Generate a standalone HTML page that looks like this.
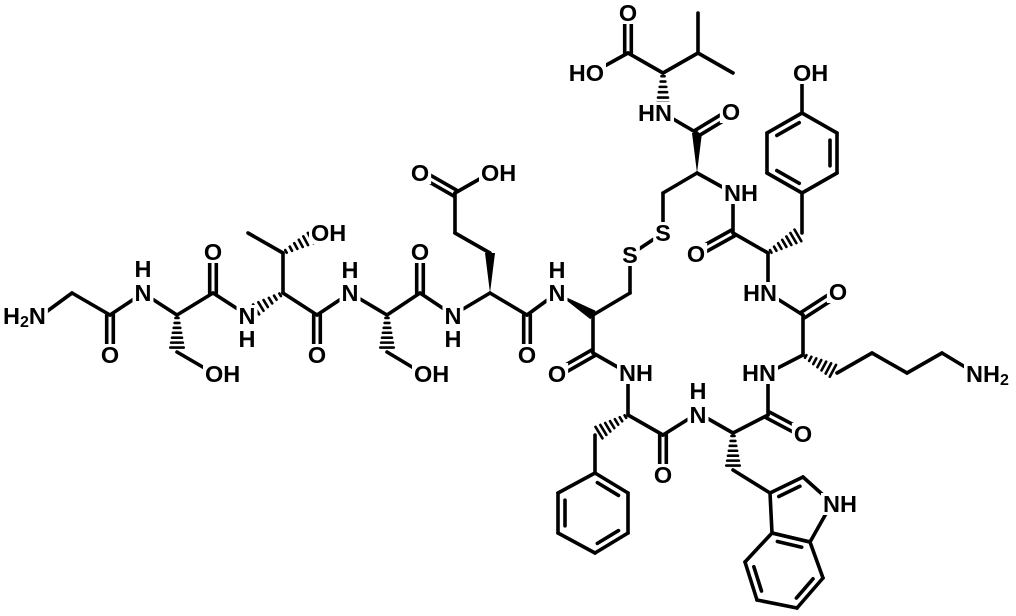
<!DOCTYPE html>
<html><head><meta charset="utf-8"><style>
html,body{margin:0;padding:0;background:#fff;}
svg{display:block}
text{font-family:"Liberation Sans",Arial,sans-serif;font-weight:bold;font-size:23.5px;fill:#000;dominant-baseline:central}
</style></head><body>
<svg id="s" width="1016" height="616" viewBox="0 0 1016 616" xmlns="http://www.w3.org/2000/svg">
<g id="b" stroke="#000" stroke-width="3.6" stroke-linecap="round" fill="none"></g>
<g id="w" fill="#000"></g>
<g id="bg" fill="#fff"></g>
<g id="t"></g>
</svg>
<script>
const B=document.getElementById('b'),W=document.getElementById('w'),T=document.getElementById('t'),BG=document.getElementById('bg');
const NS='http://www.w3.org/2000/svg';
function ln(x1,y1,x2,y2){const e=document.createElementNS(NS,'line');e.setAttribute('x1',x1);e.setAttribute('y1',y1);e.setAttribute('x2',x2);e.setAttribute('y2',y2);B.appendChild(e);}
function L(a){for(let i=0;i<a.length-1;i++)ln(a[i][0],a[i][1],a[i+1][0],a[i+1][1]);}
function D(a,b){const dx=b[0]-a[0],dy=b[1]-a[1],l=Math.hypot(dx,dy),nx=-dy/l*3.3,ny=dx/l*3.3;ln(a[0]+nx,a[1]+ny,b[0]+nx,b[1]+ny);ln(a[0]-nx,a[1]-ny,b[0]-nx,b[1]-ny);}
function IN(a,b,c){const sh=0.18;let p=[a[0]+(b[0]-a[0])*sh,a[1]+(b[1]-a[1])*sh],q=[a[0]+(b[0]-a[0])*(1-sh),a[1]+(b[1]-a[1])*(1-sh)];const mx=(a[0]+b[0])/2,my=(a[1]+b[1])/2,dx=c[0]-mx,dy=c[1]-my,l=Math.hypot(dx,dy),o=7;ln(p[0]+dx/l*o,p[1]+dy/l*o,q[0]+dx/l*o,q[1]+dy/l*o);}
function H(a,b){const dx=b[0]-a[0],dy=b[1]-a[1],l=Math.hypot(dx,dy),nx=-dy/l,ny=dx/l;const n=7;for(let i=0;i<n;i++){const t=0.08+i*0.8/(n-1),w=1+t*6.5;const x=a[0]+dx*t,y=a[1]+dy*t;const e=document.createElementNS(NS,'line');e.setAttribute('x1',x+nx*w);e.setAttribute('y1',y+ny*w);e.setAttribute('x2',x-nx*w);e.setAttribute('y2',y-ny*w);e.setAttribute('stroke-width','2.6');B.appendChild(e);}}
function Wg(a,b){const dx=b[0]-a[0],dy=b[1]-a[1],l=Math.hypot(dx,dy),nx=-dy/l*5,ny=dx/l*5;const p=document.createElementNS(NS,'polygon');p.setAttribute('points',`${a[0]},${a[1]} ${b[0]+nx},${b[1]+ny} ${b[0]-nx},${b[1]-ny}`);W.appendChild(p);}
function R(pts,dbl){const c=[pts.reduce((s,p)=>s+p[0],0)/pts.length,pts.reduce((s,p)=>s+p[1],0)/pts.length];L(pts.concat([pts[0]]));dbl.forEach(i=>IN(pts[i],pts[(i+1)%pts.length],c));}
function tx(x,y,s,anc){const e=document.createElementNS(NS,'text');e.setAttribute('x',x);e.setAttribute('y',y);if(anc)e.setAttribute('text-anchor',anc);e.innerHTML=s;T.appendChild(e);
 try{const bb=e.getBBox();const r=document.createElementNS(NS,'rect');r.setAttribute('x',bb.x-2);r.setAttribute('y',bb.y+2);r.setAttribute('width',bb.width+4);r.setAttribute('height',bb.height-4);BG.appendChild(r);}catch(err){}}
L([[42,315],[72,293],[110,315],[143,293],[177,315]]);D([110,315],[110,353]);
H([177,315],[177,352]);L([[177,352],[213,373]]);
L([[177,315],[213,293],[247,315]]);D([213,293],[213,253]);
H([283,293],[247,315]);
L([[283,293],[283,253],[248,233]]);H([283,253],[320,233]);
L([[283,293],[317,315],[350,293],[387,315]]);D([317,315],[317,353]);
H([387,315],[387,352]);L([[387,352],[422,373]]);
L([[387,315],[420,293],[453,315],[490,293]]);D([420,293],[420,253]);
Wg([490,293],[490,253]);L([[490,253],[455,233],[455,193],[490,173]]);D([455,193],[420,173]);
L([[490,293],[527,315],[557,293]]);D([527,315],[527,353]);
Wg([557,293],[593,315]);
L([[593,315],[630,293],[630,255]]);L([[630,255],[663,233],[663,193],[697,173]]);
Wg([697,173],[697,133]);D([697,133],[730,113]);L([[697,133],[663,113]]);
H([663,73],[663,113]);L([[628,53],[663,73],[698,53],[698,13]]);L([[698,53],[733,73]]);D([628,53],[628,13]);L([[628,53],[592,73]]);
L([[697,173],[733,193],[733,233],[768,253]]);D([733,233],[697,253]);
H([768,253],[802,233]);L([[802,233],[802,193]]);
R([[802,193],[767,173],[767,133],[802,113],[837,133],[837,173]],[0,2,4]);L([[802,113],[802,73]]);
L([[768,253],[768,293],[803,315],[803,355]]);D([803,315],[837,293]);
H([803,355],[837,373]);L([[837,373],[872,353],[907,373],[942,353],[975,373]]);
L([[803,355],[768,373],[768,415],[733,433]]);D([768,415],[802,433]);
L([[733,433],[698,413],[663,435],[628,415],[628,373],[593,353],[593,315]]);D([663,435],[663,473]);D([593,353],[558,373]);
H([628,415],[595,435]);L([[595,435],[595,473]]);
R([[595,473],[628,493],[628,533],[595,553],[558,533],[558,493]],[0,2,4]);
H([733,433],[733,470]);L([[733,470],[770,493]]);
R([[770,493],[803,477],[832,503],[810,542],[772,533]],[0]);
R([[772,533],[745,562],[757,600],[797,608],[823,578],[810,542]],[1,3,5]);
tx(3,316,'H<tspan font-size="16" dy="6">2</tspan><tspan dy="-6">N</tspan>','start');
tx(110,355,'O','middle');tx(143,293,'N','middle');tx(143,269,'H','middle');
tx(205,374,'OH','start');tx(213,252,'O','middle');
tx(247,316,'N','middle');tx(247,339,'H','middle');
tx(311,233,'OH','start');tx(317,355,'O','middle');
tx(350,293,'N','middle');tx(350,270,'H','middle');
tx(414,374,'OH','start');tx(420,252,'O','middle');
tx(453,316,'N','middle');tx(453,339,'H','middle');
tx(420,173,'O','middle');tx(481,173,'OH','start');
tx(527,355,'O','middle');tx(557,293,'N','middle');tx(557,270,'H','middle');
tx(630,255,'S','middle');tx(663,233,'S','middle');
tx(628,13,'O','middle');tx(604,73,'HO','end');tx(672,113,'HN','end');tx(731,112,'O','middle');
tx(724,193,'NH','start');tx(696,254,'O','middle');tx(793,73,'OH','start');
tx(777,293,'HN','end');tx(838,292,'O','middle');
tx(776,373,'HN','end');tx(966,374,'NH<tspan font-size="16" dy="6">2</tspan>','start');
tx(803,434,'O','middle');tx(698,415,'N','middle');tx(698,391,'H','middle');
tx(663,475,'O','middle');
tx(619,373,'NH','start');tx(557,374,'O','middle');
tx(823,504,'NH','start');
</script>
</body></html>
